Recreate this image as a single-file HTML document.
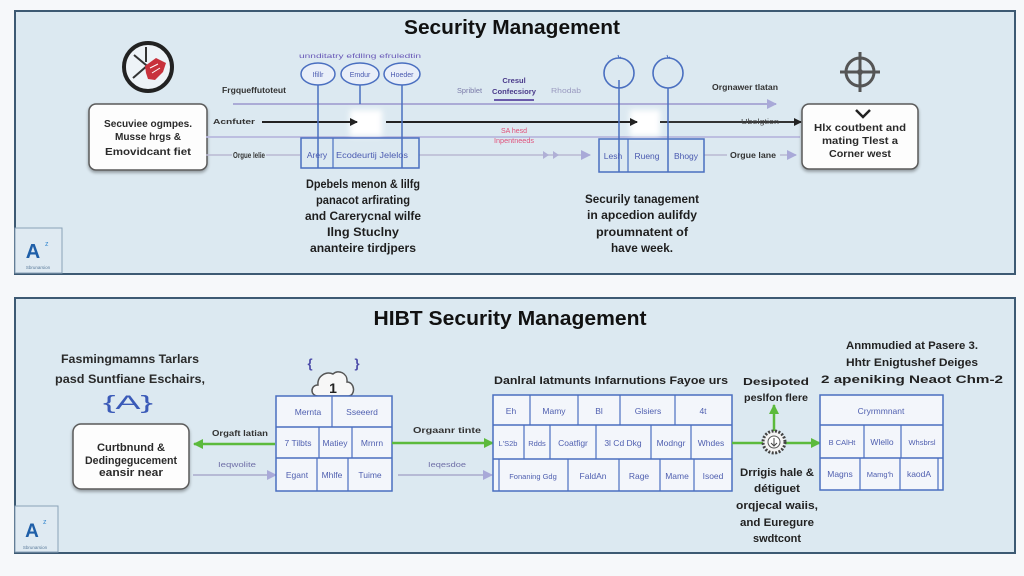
<!DOCTYPE html>
<html><head><meta charset="utf-8"><style>
html,body{margin:0;padding:0;background:#f6f8fa;}
svg{display:block;}
text{font-family:"Liberation Sans",sans-serif;}
</style></head><body>
<svg width="1024" height="576" viewBox="0 0 1024 576" xmlns="http://www.w3.org/2000/svg">
<defs>
<filter id="sh" x="-20%" y="-20%" width="140%" height="150%"><feGaussianBlur in="SourceAlpha" stdDeviation="1.5"/><feOffset dx="0" dy="2"/><feComponentTransfer><feFuncA type="linear" slope="0.35"/></feComponentTransfer><feMerge><feMergeNode/><feMergeNode in="SourceGraphic"/></feMerge></filter>
<filter id="gl" x="-50%" y="-50%" width="200%" height="200%"><feGaussianBlur stdDeviation="3"/></filter>
<marker id="ak" markerWidth="8" markerHeight="8" refX="7" refY="4" orient="auto" markerUnits="userSpaceOnUse"><path d="M0,0 L8,4 L0,8 z" fill="#222"/></marker>
<marker id="ap" markerWidth="10" markerHeight="10" refX="9" refY="5" orient="auto" markerUnits="userSpaceOnUse"><path d="M0,0 L10,5 L0,10 z" fill="#a9a9d8"/></marker>
<marker id="ag" markerWidth="10" markerHeight="10" refX="9" refY="5" orient="auto" markerUnits="userSpaceOnUse"><path d="M0,0 L10,5 L0,10 z" fill="#5cba3c"/></marker>
</defs>

<!-- ===== TOP PANEL ===== -->
<rect x="15" y="11" width="1000" height="263" fill="#dce9f1" stroke="#3d5a73" stroke-width="2"/>
<text x="512" y="34" font-size="20" font-weight="bold" text-anchor="middle" fill="#111" textLength="216" lengthAdjust="spacingAndGlyphs">Security Management</text>

<!-- prohibited icon -->
<circle cx="148" cy="67" r="24" fill="#eef3f7" stroke="#222" stroke-width="4"/>
<line x1="134" y1="55" x2="158" y2="75" stroke="#333" stroke-width="2"/>
<line x1="146" y1="47" x2="146" y2="62" stroke="#333" stroke-width="2"/>
<line x1="133" y1="78" x2="148" y2="65" stroke="#333" stroke-width="2"/>
<path d="M145,66 L156,58 L166,63 L163,72 L155,80 L148,79 L146,73 z" fill="#c8323c"/>
<path d="M150,68 L158,64 M152,73 L160,68" stroke="#fff" stroke-width="1"/>

<!-- left box -->
<rect x="89" y="104" width="118" height="66" rx="7" fill="#fdfdfd" stroke="#5a5a5a" stroke-width="1.5" filter="url(#sh)"/>
<g font-size="10.5" font-weight="bold" fill="#2a2a2a" text-anchor="middle">
<text x="148" y="127" textLength="88" lengthAdjust="spacingAndGlyphs">Secuviee ogmpes.</text>
<text x="148" y="140" textLength="66" lengthAdjust="spacingAndGlyphs">Musse hrgs &amp;</text>
<text x="148" y="155" textLength="86" lengthAdjust="spacingAndGlyphs">Emovidcant fiet</text>
</g>

<!-- horizontal lines -->
<line x1="233" y1="104" x2="776" y2="104" stroke="#ababd6" stroke-width="2" marker-end="url(#ap)"/>
<line x1="206" y1="137" x2="800" y2="137" stroke="#b8b8de" stroke-width="1.8"/>
<line x1="266" y1="155" x2="300" y2="155" stroke="#b9b9d2" stroke-width="1.5"/>
<line x1="206" y1="155" x2="232" y2="155" stroke="#b9b9d2" stroke-width="1.5"/>
<line x1="419" y1="155" x2="590" y2="155" stroke="#b9b9d2" stroke-width="1.5" marker-end="url(#ap)"/>
<path d="M543,151 L549,155 L543,159 z M553,151 L559,155 L553,159 z" fill="#b0b0d6"/>
<line x1="704" y1="155" x2="727" y2="155" stroke="#b9b9d2" stroke-width="1.5"/>
<line x1="780" y1="155" x2="796" y2="155" stroke="#b9b9d2" stroke-width="1.5" marker-end="url(#ap)"/>

<!-- glow squares -->
<rect x="350" y="110" width="32" height="26" fill="#ffffff" filter="url(#gl)"/>
<rect x="630" y="110" width="30" height="26" fill="#ffffff" filter="url(#gl)"/>

<!-- black arrows -->
<line x1="262" y1="122" x2="357" y2="122" stroke="#222" stroke-width="2" marker-end="url(#ak)"/>
<line x1="386" y1="122" x2="637" y2="122" stroke="#222" stroke-width="2" marker-end="url(#ak)"/>
<line x1="660" y1="122" x2="801" y2="122" stroke="#333" stroke-width="2" marker-end="url(#ak)"/>

<text x="213" y="124" font-size="7" font-weight="bold" fill="#333" textLength="42" lengthAdjust="spacingAndGlyphs">Acnfuter</text>
<text x="222" y="93" font-size="8" font-weight="bold" fill="#333" textLength="64" lengthAdjust="spacingAndGlyphs">Frgqueffutoteut</text>
<text x="233" y="158" font-size="8" font-weight="bold" fill="#333" textLength="32" lengthAdjust="spacingAndGlyphs">Orgue lelie</text>
<text x="457" y="93" font-size="7.5" fill="#7a7aa8" textLength="25" lengthAdjust="spacingAndGlyphs">Spriblet</text>
<text x="514" y="83" font-size="7.5" font-weight="bold" fill="#4a3a8a" text-anchor="middle">Cresul</text>
<text x="514" y="94" font-size="7.5" font-weight="bold" fill="#4a3a8a" text-anchor="middle" textLength="44" lengthAdjust="spacingAndGlyphs">Confecsiory</text>
<line x1="494" y1="100" x2="534" y2="100" stroke="#6a5aaa" stroke-width="2"/>
<text x="551" y="93" font-size="7.5" fill="#9a9ac0" textLength="30" lengthAdjust="spacingAndGlyphs">Rhodab</text>
<text x="514" y="133" font-size="7" fill="#e0507a" text-anchor="middle">SA hesd</text>
<text x="514" y="143" font-size="7" fill="#e0507a" text-anchor="middle" textLength="40" lengthAdjust="spacingAndGlyphs">Inpentneeds</text>
<text x="745" y="90" font-size="8" font-weight="bold" fill="#333" text-anchor="middle" textLength="66" lengthAdjust="spacingAndGlyphs">Orgnawer tlatan</text>
<text x="760" y="124" font-size="7" fill="#444" text-anchor="middle" textLength="38" lengthAdjust="spacingAndGlyphs">Ubelgtion</text>
<text x="753" y="158" font-size="8" font-weight="bold" fill="#333" text-anchor="middle" textLength="46" lengthAdjust="spacingAndGlyphs">Orgue lane</text>

<!-- ellipses -->
<text x="360" y="58" font-size="6.5" fill="#6a5ab8" text-anchor="middle" textLength="122" lengthAdjust="spacingAndGlyphs">unnditatry efdllng efruledtin</text>
<line x1="318" y1="85" x2="318" y2="168" stroke="#4a6fc0" stroke-width="1.5"/>
<line x1="360" y1="85" x2="360" y2="104" stroke="#4a6fc0" stroke-width="1.5"/>
<line x1="402" y1="85" x2="402" y2="168" stroke="#4a6fc0" stroke-width="1.5"/>
<ellipse cx="318" cy="74" rx="17" ry="11" fill="#e9eff9" stroke="#4a6fc0" stroke-width="1.5"/>
<ellipse cx="360" cy="74" rx="19" ry="11" fill="#e9eff9" stroke="#4a6fc0" stroke-width="1.5"/>
<ellipse cx="402" cy="74" rx="18" ry="11" fill="#e9eff9" stroke="#4a6fc0" stroke-width="1.5"/>
<text x="318" y="77" font-size="7" fill="#4a5ab0" text-anchor="middle">Ifillr</text>
<text x="360" y="77" font-size="7" fill="#4a5ab0" text-anchor="middle">Emdur</text>
<text x="402" y="77" font-size="7" fill="#4a5ab0" text-anchor="middle">Hoeder</text>

<!-- box 1 -->
<rect x="301" y="138" width="118" height="30" fill="none" stroke="#4a6fc0" stroke-width="1.5"/>
<line x1="333" y1="138" x2="333" y2="168" stroke="#4a6fc0" stroke-width="1.2"/>
<text x="317" y="158" font-size="8.5" fill="#4a5ab0" text-anchor="middle">Arery</text>
<text x="372" y="158" font-size="8.5" fill="#4a5ab0" text-anchor="middle" textLength="72" lengthAdjust="spacingAndGlyphs">Ecodeurtij Jelelos</text>

<g font-size="11.5" font-weight="bold" fill="#1e1e1e" text-anchor="middle">
<text x="363" y="188" textLength="114" lengthAdjust="spacingAndGlyphs">Dpebels menon &amp; lilfg</text>
<text x="363" y="204" textLength="94" lengthAdjust="spacingAndGlyphs">panacot arfirating</text>
<text x="363" y="220" textLength="116" lengthAdjust="spacingAndGlyphs">and Carerycnal wilfe</text>
<text x="363" y="236" textLength="72" lengthAdjust="spacingAndGlyphs">Ilng Stuclny</text>
<text x="363" y="252" textLength="106" lengthAdjust="spacingAndGlyphs">ananteire tirdjpers</text>
</g>

<!-- circles right -->
<line x1="619" y1="80" x2="619" y2="172" stroke="#4a6fc0" stroke-width="1.5"/>
<line x1="668" y1="88" x2="668" y2="172" stroke="#4a6fc0" stroke-width="1.5"/>
<circle cx="619" cy="73" r="15" fill="none" stroke="#4a6fc0" stroke-width="1.6"/>
<circle cx="668" cy="73" r="15" fill="none" stroke="#4a6fc0" stroke-width="1.6"/>
<path d="M618,55 l1,3 l2,-1 M667,55 l1,3 l2,-1" stroke="#4a6fc0" stroke-width="1" fill="none"/>
<rect x="599" y="139" width="105" height="33" fill="none" stroke="#4a6fc0" stroke-width="1.5"/>
<line x1="628" y1="139" x2="628" y2="172" stroke="#4a6fc0" stroke-width="1.2"/>
<text x="613" y="159" font-size="8.5" fill="#4a5ab0" text-anchor="middle">Lesh</text>
<text x="647" y="159" font-size="8.5" fill="#4a5ab0" text-anchor="middle">Rueng</text>
<text x="686" y="159" font-size="8.5" fill="#4a5ab0" text-anchor="middle">Bhogy</text>

<g font-size="11.5" font-weight="bold" fill="#1e1e1e" text-anchor="middle">
<text x="642" y="203" textLength="114" lengthAdjust="spacingAndGlyphs">Securily tanagement</text>
<text x="642" y="219" textLength="110" lengthAdjust="spacingAndGlyphs">in apcedion aulifdy</text>
<text x="642" y="236" textLength="92" lengthAdjust="spacingAndGlyphs">proumnatent of</text>
<text x="642" y="252" textLength="62" lengthAdjust="spacingAndGlyphs">have week.</text>
</g>

<!-- crosshair -->
<circle cx="860" cy="72" r="14" fill="none" stroke="#555" stroke-width="3"/>
<line x1="860" y1="52" x2="860" y2="92" stroke="#555" stroke-width="3"/>
<line x1="840" y1="72" x2="880" y2="72" stroke="#555" stroke-width="3"/>
<circle cx="860" cy="72" r="3" fill="#555"/>

<!-- right box -->
<rect x="802" y="104" width="116" height="65" rx="7" fill="#fdfdfd" stroke="#5a5a5a" stroke-width="1.5" filter="url(#sh)"/>
<path d="M856,110 L863,117 L870,110" fill="none" stroke="#222" stroke-width="2.5"/>
<g font-size="10.5" font-weight="bold" fill="#2a2a2a" text-anchor="middle">
<text x="860" y="131" textLength="92" lengthAdjust="spacingAndGlyphs">Hlx coutbent and</text>
<text x="860" y="144" textLength="76" lengthAdjust="spacingAndGlyphs">mating Tlest a</text>
<text x="860" y="157" textLength="62" lengthAdjust="spacingAndGlyphs">Corner west</text>
</g>

<!-- logo top -->
<rect x="15" y="228" width="47" height="45" fill="#dfeaf2" stroke="#8aa2b8" stroke-width="1"/>
<text x="33" y="258" font-size="20" font-weight="bold" fill="#1f5fa8" text-anchor="middle">A</text>
<text x="45" y="246" font-size="7" fill="#3a8ad0">z</text>
<text x="38" y="269" font-size="4.5" fill="#5a7a9a" text-anchor="middle">Sbrunarsion</text>

<!-- ===== BOTTOM PANEL ===== -->
<rect x="15" y="298" width="1000" height="255" fill="#dce9f1" stroke="#3d5a73" stroke-width="2"/>
<text x="510" y="325" font-size="20" font-weight="bold" text-anchor="middle" fill="#111" textLength="273" lengthAdjust="spacingAndGlyphs">HIBT Security Management</text>

<g font-size="12" font-weight="bold" fill="#2a2a2a" text-anchor="middle">
<text x="130" y="363" textLength="138" lengthAdjust="spacingAndGlyphs">Fasmingmamns Tarlars</text>
<text x="130" y="383" textLength="150" lengthAdjust="spacingAndGlyphs">pasd Suntfiane Eschairs,</text>
</g>
<text x="128" y="409" font-size="19" fill="#3a5ab8" text-anchor="middle" textLength="50" lengthAdjust="spacingAndGlyphs">{A}</text>

<rect x="73" y="424" width="116" height="65" rx="8" fill="#fdfdfd" stroke="#5a5a5a" stroke-width="1.5" filter="url(#sh)"/>
<g font-size="11" font-weight="bold" fill="#2a2a2a" text-anchor="middle">
<text x="131" y="451" textLength="68" lengthAdjust="spacingAndGlyphs">Curtbnund &amp;</text>
<text x="131" y="464" textLength="92" lengthAdjust="spacingAndGlyphs">Dedingegucement</text>
<text x="131" y="476" textLength="64" lengthAdjust="spacingAndGlyphs">eansir near</text>
</g>

<line x1="275" y1="444" x2="194" y2="444" stroke="#5cba3c" stroke-width="2.5" marker-end="url(#ag)"/>
<text x="240" y="436" font-size="8" font-weight="bold" fill="#333" text-anchor="middle" textLength="56" lengthAdjust="spacingAndGlyphs">Orgaft latian</text>
<line x1="193" y1="475" x2="276" y2="475" stroke="#aaaacc" stroke-width="1.5" marker-end="url(#ap)"/>
<text x="237" y="467" font-size="7" fill="#7070a8" text-anchor="middle" textLength="38" lengthAdjust="spacingAndGlyphs">Ieqwolite</text>

<!-- cloud & braces -->
<text x="310" y="368" font-size="13" font-weight="bold" fill="#4a4aa8" text-anchor="middle">{</text>
<text x="357" y="368" font-size="13" font-weight="bold" fill="#4a4aa8" text-anchor="middle">}</text>
<path d="M318,396 C310,396 310,385 318,385 C317,376 326,371 333,374 C338,369 348,373 347,382 C355,382 356,396 348,396 z" fill="#f7f7f7" stroke="#555" stroke-width="1.5"/>
<text x="333" y="393" font-size="14" font-weight="bold" fill="#222" text-anchor="middle">1</text>

<!-- table 1 -->
<rect x="276" y="396" width="116" height="95" fill="#f3f6fb" stroke="#4a6fc0" stroke-width="1.5"/>
<line x1="276" y1="427" x2="392" y2="427" stroke="#4a6fc0" stroke-width="1.5"/>
<line x1="276" y1="458" x2="392" y2="458" stroke="#4a6fc0" stroke-width="1.5"/>
<line x1="332" y1="396" x2="332" y2="427" stroke="#4a6fc0" stroke-width="1.2"/>
<line x1="319" y1="427" x2="319" y2="458" stroke="#4a6fc0" stroke-width="1.2"/>
<line x1="352" y1="427" x2="352" y2="458" stroke="#4a6fc0" stroke-width="1.2"/>
<line x1="317" y1="458" x2="317" y2="491" stroke="#4a6fc0" stroke-width="1.2"/>
<line x1="348" y1="458" x2="348" y2="491" stroke="#4a6fc0" stroke-width="1.2"/>
<g font-size="8.5" fill="#5060b0" text-anchor="middle">
<text x="308" y="415">Mernta</text><text x="362" y="415">Sseeerd</text>
<text x="298" y="446">7 Tilbts</text><text x="335" y="446">Matiey</text><text x="372" y="446">Mrnrn</text>
<text x="297" y="478">Egant</text><text x="332" y="478">Mhlfe</text><text x="370" y="478">Tuime</text>
</g>

<line x1="392" y1="443" x2="493" y2="443" stroke="#5cba3c" stroke-width="2.5" marker-end="url(#ag)"/>
<text x="447" y="433" font-size="8" font-weight="bold" fill="#333" text-anchor="middle" textLength="68" lengthAdjust="spacingAndGlyphs">Orgaanr tinte</text>
<line x1="398" y1="475" x2="492" y2="475" stroke="#aaaacc" stroke-width="1.5" marker-end="url(#ap)"/>
<text x="447" y="467" font-size="7" fill="#7070a8" text-anchor="middle" textLength="38" lengthAdjust="spacingAndGlyphs">Ieqesdoe</text>

<!-- table 2 -->
<text x="611" y="384" font-size="11" font-weight="bold" fill="#222" text-anchor="middle" textLength="234" lengthAdjust="spacingAndGlyphs">Danlral Iatmunts Infarnutions Fayoe urs</text>
<rect x="493" y="395" width="239" height="96" fill="#f3f6fb" stroke="#4a6fc0" stroke-width="1.5"/>
<line x1="493" y1="425" x2="732" y2="425" stroke="#4a6fc0" stroke-width="1.5"/>
<line x1="493" y1="459" x2="732" y2="459" stroke="#4a6fc0" stroke-width="1.5"/>
<g stroke="#4a6fc0" stroke-width="1.2">
<line x1="530" y1="395" x2="530" y2="425"/><line x1="578" y1="395" x2="578" y2="425"/><line x1="620" y1="395" x2="620" y2="425"/><line x1="675" y1="395" x2="675" y2="425"/>
<line x1="524" y1="425" x2="524" y2="459"/><line x1="550" y1="425" x2="550" y2="459"/><line x1="596" y1="425" x2="596" y2="459"/><line x1="651" y1="425" x2="651" y2="459"/><line x1="691" y1="425" x2="691" y2="459"/>
<line x1="499" y1="459" x2="499" y2="491"/><line x1="568" y1="459" x2="568" y2="491"/><line x1="619" y1="459" x2="619" y2="491"/><line x1="660" y1="459" x2="660" y2="491"/><line x1="694" y1="459" x2="694" y2="491"/>
</g>
<g font-size="8.5" fill="#5060b0" text-anchor="middle">
<text x="511" y="414">Eh</text><text x="554" y="414">Mamy</text><text x="599" y="414">Bl</text><text x="648" y="414">Glsiers</text><text x="703" y="414">4t</text>
<text x="508" y="446" font-size="7.5">L'S2b</text><text x="537" y="446" font-size="7.5">Rdds</text><text x="573" y="446">Coatfigr</text><text x="623" y="446">3l Cd Dkg</text><text x="671" y="446">Modngr</text><text x="711" y="446">Whdes</text>
<text x="533" y="479" font-size="7.5">Fonaning Gdg</text><text x="593" y="479">FaldAn</text><text x="639" y="479">Rage</text><text x="677" y="479">Mame</text><text x="713" y="479">Isoed</text>
</g>

<!-- gear & green -->
<line x1="732" y1="443" x2="820" y2="443" stroke="#5cba3c" stroke-width="2.5" marker-end="url(#ag)"/>
<line x1="774" y1="432" x2="774" y2="405" stroke="#5cba3c" stroke-width="2.5" marker-end="url(#ag)"/>
<circle cx="774" cy="442" r="11" fill="#f4f4f4" stroke="#444" stroke-width="3" stroke-dasharray="2 1.5"/>
<circle cx="774" cy="442" r="6" fill="#fff" stroke="#555" stroke-width="1"/>
<path d="M774,438 L774,445 M771,443 L774,446 L777,443" stroke="#444" stroke-width="1" fill="none"/>
<text x="776" y="385" font-size="10.5" font-weight="bold" fill="#222" text-anchor="middle" textLength="66" lengthAdjust="spacingAndGlyphs">Desipoted</text>
<text x="776" y="401" font-size="10.5" font-weight="bold" fill="#222" text-anchor="middle" textLength="64" lengthAdjust="spacingAndGlyphs">peslfon flere</text>
<g font-size="11" font-weight="bold" fill="#222" text-anchor="middle">
<text x="777" y="476" textLength="74" lengthAdjust="spacingAndGlyphs">Drrigis hale &amp;</text>
<text x="777" y="492" textLength="46" lengthAdjust="spacingAndGlyphs">détiguet</text>
<text x="777" y="509" textLength="82" lengthAdjust="spacingAndGlyphs">orqjecal waiis,</text>
<text x="777" y="526" textLength="74" lengthAdjust="spacingAndGlyphs">and Euregure</text>
<text x="777" y="542" textLength="48" lengthAdjust="spacingAndGlyphs">swdtcont</text>
</g>

<!-- right text & table 3 -->
<g font-size="11" font-weight="bold" fill="#222" text-anchor="middle">
<text x="912" y="349" textLength="132" lengthAdjust="spacingAndGlyphs">Anmmudied at Pasere 3.</text>
<text x="912" y="366" textLength="132" lengthAdjust="spacingAndGlyphs">Hhtr Enigtushef Deiges</text>
<text x="912" y="383" textLength="182" lengthAdjust="spacingAndGlyphs">2 apeniking Neaot Chm-2</text>
</g>
<rect x="820" y="395" width="123" height="95" fill="#f3f6fb" stroke="#4a6fc0" stroke-width="1.5"/>
<line x1="820" y1="425" x2="943" y2="425" stroke="#4a6fc0" stroke-width="1.5"/>
<line x1="820" y1="458" x2="943" y2="458" stroke="#4a6fc0" stroke-width="1.5"/>
<g stroke="#4a6fc0" stroke-width="1.2">
<line x1="864" y1="425" x2="864" y2="458"/><line x1="901" y1="425" x2="901" y2="458"/>
<line x1="860" y1="458" x2="860" y2="490"/><line x1="900" y1="458" x2="900" y2="490"/><line x1="938" y1="458" x2="938" y2="490"/>
</g>
<g font-size="8.5" fill="#5060b0" text-anchor="middle">
<text x="881" y="414">Cryrmmnant</text>
<text x="842" y="445" font-size="7.5">B CAlHt</text><text x="882" y="445">Wlello</text><text x="922" y="445" font-size="7.5">Whsbrsl</text>
<text x="840" y="477">Magns</text><text x="880" y="477" font-size="7.5">Mamg'h</text><text x="919" y="477">kaodA</text>
</g>

<!-- logo bottom -->
<rect x="15" y="506" width="43" height="46" fill="#dfeaf2" stroke="#8aa2b8" stroke-width="1"/>
<text x="32" y="537" font-size="19" font-weight="bold" fill="#1f5fa8" text-anchor="middle">A</text>
<text x="43" y="524" font-size="7" fill="#3a8ad0">z</text>
<text x="35" y="549" font-size="4.5" fill="#5a7a9a" text-anchor="middle">Sbrunarsion</text>
</svg>
</body></html>
